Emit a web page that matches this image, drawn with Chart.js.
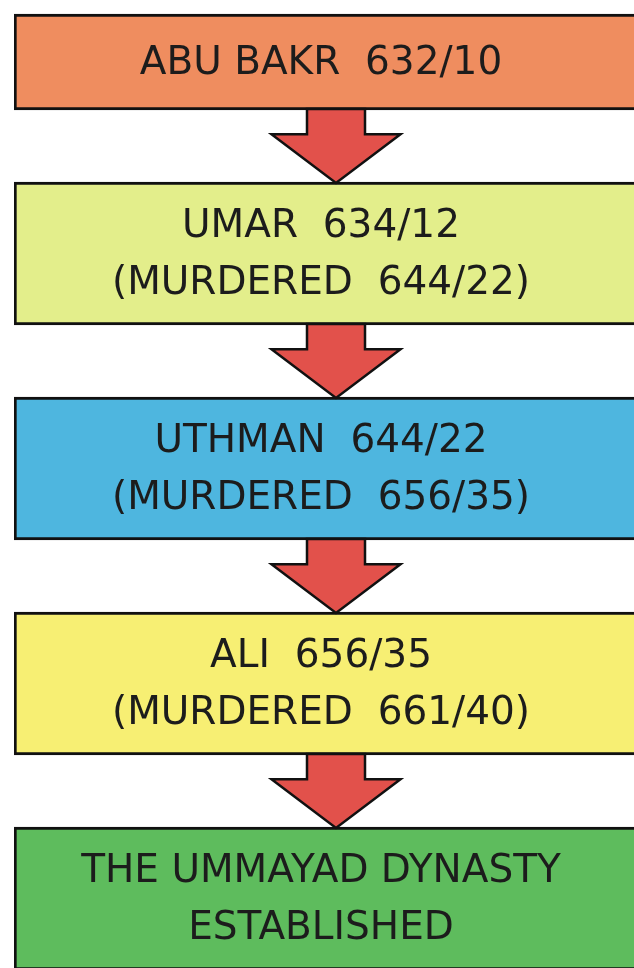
<!DOCTYPE html>
<html>
<head>
<meta charset="utf-8">
<script src="https://cdn.jsdelivr.net/npm/chart.js@4/dist/chart.umd.min.js"></script>
<style>
  html, body { margin: 0; padding: 0; background: #fff; overflow: hidden; }
  #wrap { width: 634px; height: 968px; overflow: hidden; }
</style>
</head>
<body>
<div id="wrap"><canvas id="flow" width="660" height="968"></canvas></div>
<script>
'use strict';

/* ---- data: the succession of the caliphs ---- */
const rulers    = ['ABU BAKR', 'UMAR', 'UTHMAN', 'ALI'];
const accession = ['632/10', '634/12', '644/22', '656/35'];
const murdered  = [null, '644/22', '656/35', '661/40'];
const finalStage = ['THE UMMAYAD DYNASTY', 'ESTABLISHED'];

/* ---- styles ---- */
const boxColors = ['#EF8D5F', '#E3EE8B', '#4EB6DF', '#F7EF73', '#5EBC5D'];
const arrowColor = '#E2514B';
const inkColor = '#1c1c1c';
const FONT = "39px 'DejaVu Sans', sans-serif";

/* text lines for each box */
const stageLines = rulers.map((r, i) => {
    const lines = [r + '  ' + accession[i]];
    if (murdered[i]) lines.push('(MURDERED  ' + murdered[i] + ')');
    return lines;
});
stageLines.push(finalStage);

/* ---- layout: box heights grow with line count ---- */
const TOP = 14, PAD = 49, LINE_H = 47, GAP = 72, TOTAL = 968;
const spans = [];
let cursor = TOP;
stageLines.forEach(lines => {
    const h = PAD + LINE_H * lines.length;
    spans.push([cursor, cursor + h]);
    cursor += h + GAP;
});

/* ---- plugin: arrows between boxes + box text ---- */
const flowPlugin = {
    id: 'flow',
    afterDatasetsDraw(chart) {
        const ctx = chart.ctx;
        const boxes = chart.data.datasets.map((_, i) => {
            const el = chart.getDatasetMeta(i).data[0];
            return { top: Math.min(el.y, el.base), bottom: Math.max(el.y, el.base) };
        });

        // arrows
        const cx = 336, shaftW = 58, headW = 129;
        for (let i = 0; i < boxes.length - 1; i++) {
            const y0 = boxes[i].bottom - 1;
            const y2 = boxes[i + 1].top + 1;
            const y1 = y0 + (y2 - y0) * 0.34;
            ctx.save();
            ctx.beginPath();
            ctx.moveTo(cx - shaftW / 2, y0);
            ctx.lineTo(cx + shaftW / 2, y0);
            ctx.lineTo(cx + shaftW / 2, y1);
            ctx.lineTo(cx + headW / 2, y1);
            ctx.lineTo(cx, y2);
            ctx.lineTo(cx - headW / 2, y1);
            ctx.lineTo(cx - shaftW / 2, y1);
            ctx.closePath();
            ctx.fillStyle = arrowColor;
            ctx.fill();
            ctx.lineWidth = 2.5;
            ctx.lineJoin = 'miter';
            ctx.strokeStyle = '#111';
            ctx.stroke();
            ctx.restore();
        }

        // text
        ctx.save();
        ctx.font = FONT;
        ctx.fillStyle = inkColor;
        ctx.textAlign = 'center';
        ctx.textBaseline = 'middle';
        const tx = 321, lineGap = 57;
        stageLines.forEach((lines, i) => {
            const mid = (boxes[i].top + boxes[i].bottom) / 2 + 2;
            lines.forEach((t, j) => {
                const y = mid + (j - (lines.length - 1) / 2) * lineGap;
                ctx.fillText(t, tx, y);
            });
        });
        ctx.restore();
    }
};

new Chart(document.getElementById('flow'), {
    type: 'bar',
    data: {
        labels: ['caliphs'],
        datasets: spans.map((s, i) => ({
            data: [s],
            backgroundColor: boxColors[i],
            borderColor: '#111',
            borderWidth: 3,
            borderSkipped: 'right',
            grouped: false,
            barPercentage: 1,
            categoryPercentage: 1
        }))
    },
    options: {
        responsive: false,
        animation: false,
        layout: { padding: { left: 14, right: 0, top: 0, bottom: 0 } },
        plugins: { legend: { display: false }, tooltip: { enabled: false } },
        scales: {
            x: { display: false },
            y: { display: false, reverse: true, min: 0, max: TOTAL }
        }
    },
    plugins: [flowPlugin]
});
</script>
</body>
</html>
